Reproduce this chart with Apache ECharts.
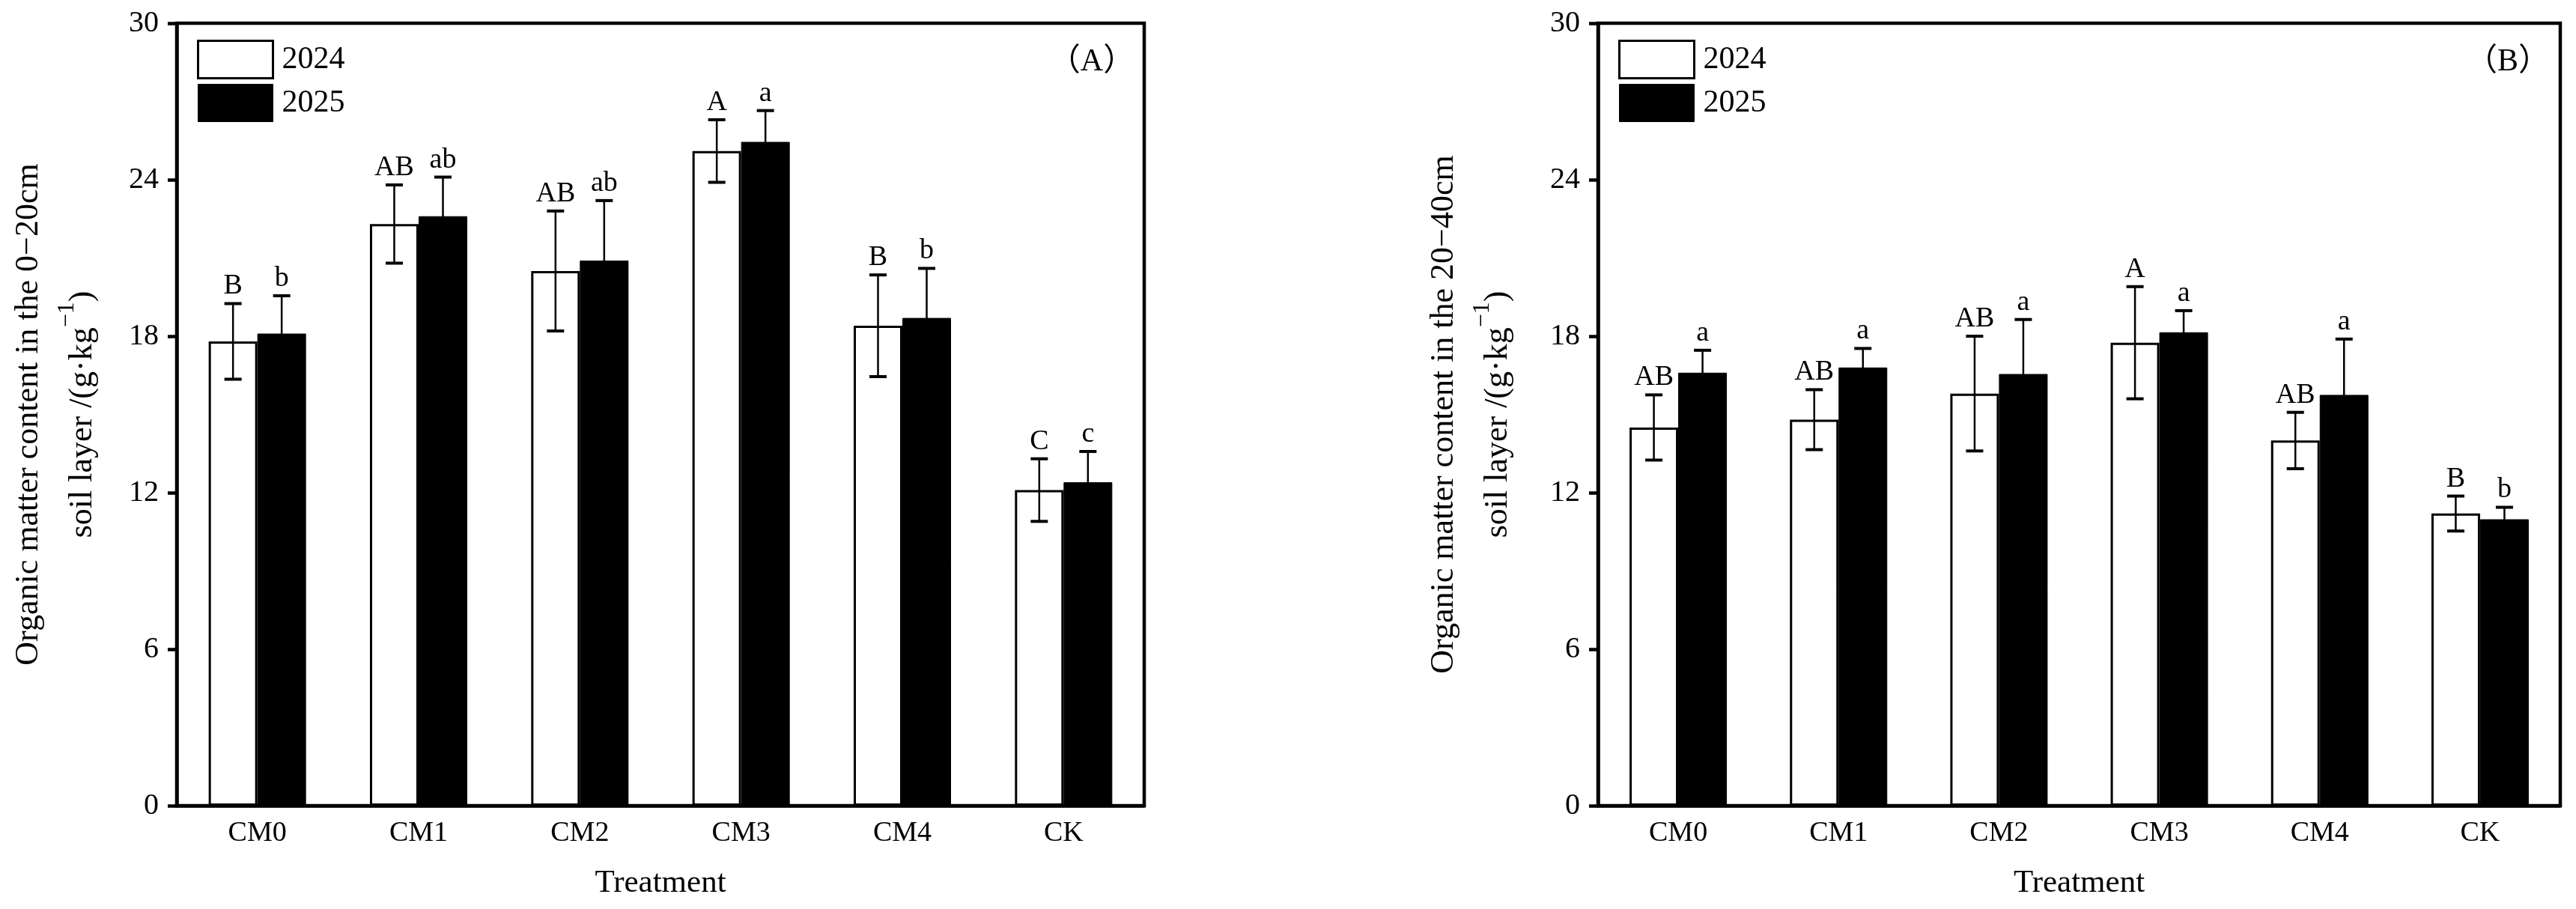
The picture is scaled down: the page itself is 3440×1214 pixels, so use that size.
<!DOCTYPE html>
<html>
<head>
<meta charset="utf-8">
<script src="https://cdn.jsdelivr.net/npm/echarts@6/dist/echarts.min.js"></script>
<style>
  html, body { margin: 0; padding: 0; background: #fff; }
  #main { width: 3440px; height: 1214px; }
</style>
</head>
<body>
<div id="main"></div>
<script>
// treatments on the x axis
const categories = ['CM0', 'CM1', 'CM2', 'CM3', 'CM4', 'CK'];
const yTicks = [0, 6, 12, 18, 24, 30];

// (A) 0-20cm layer
const a2024 = [17.8, 22.3, 20.5, 25.1, 18.4, 12.1];
const a2024Err = [1.45, 1.5, 2.3, 1.2, 1.95, 1.2];
const a2025 = [18.1, 22.6, 20.9, 25.45, 18.7, 12.4];
const a2025Err = [1.45, 1.5, 2.3, 1.2, 1.9, 1.18];
const a2024Sig = ['B', 'AB', 'AB', 'A', 'B', 'C'];
const a2025Sig = ['b', 'ab', 'ab', 'a', 'b', 'c'];

// (B) 20-40cm layer
const b2024 = [14.5, 14.8, 15.8, 17.75, 14.0, 11.2];
const b2024Err = [1.25, 1.15, 2.2, 2.15, 1.08, 0.67];
const b2025 = [16.6, 16.8, 16.55, 18.15, 15.75, 10.98];
const b2025Err = [0.86, 0.73, 2.09, 0.83, 2.14, 0.46];
const b2024Sig = ['AB', 'AB', 'AB', 'A', 'AB', 'B'];
const b2025Sig = ['a', 'a', 'a', 'a', 'a', 'b'];

const FONT = '"Liberation Serif", "Times New Roman", serif';
const BAR_W = 65;
const LINE_W = 4.5;

const chart = echarts.init(document.getElementById('main'));

function xAxis(gridIndex) {
  return {
    type: 'category',
    gridIndex: gridIndex,
    data: categories,
    name: 'Treatment',
    nameLocation: 'middle',
    nameGap: 82,
    nameTextStyle: { fontFamily: FONT, fontSize: 43, color: '#000' },
    axisLine: { lineStyle: { color: '#000', width: LINE_W } },
    axisTick: { show: false },
    axisLabel: { fontFamily: FONT, fontSize: 38, color: '#000', margin: 18 }
  };
}

function yAxis(gridIndex, depth, gap) {
  return {
    type: 'value',
    gridIndex: gridIndex,
    min: yTicks[0],
    max: yTicks[yTicks.length - 1],
    interval: 6,
    name: '{t|Organic matter content in the ' + depth + '}\n{t|soil layer /(g·kg}{s|−1}{t|)}',
    nameLocation: 'middle',
    nameRotate: 90,
    nameGap: gap,
    nameTextStyle: {
      color: '#000',
      rich: {
        t: { fontFamily: FONT, fontSize: 44, lineHeight: 72, color: '#000' },
        s: { fontFamily: FONT, fontSize: 32, lineHeight: 40, verticalAlign: 'top', color: '#000' }
      }
    },
    axisLine: { show: true, lineStyle: { color: '#000', width: LINE_W } },
    axisTick: { show: true, length: 12, lineStyle: { color: '#000', width: LINE_W } },
    axisLabel: { fontFamily: FONT, fontSize: 40, color: '#000', margin: 24 },
    splitLine: { show: false }
  };
}

function barSeries(name, values, idx, white) {
  return {
    type: 'bar',
    name: name,
    xAxisIndex: idx,
    yAxisIndex: idx,
    data: values,
    barWidth: BAR_W,
    barGap: '0%',
    silent: true,
    itemStyle: white
      ? { color: '#fff', borderColor: '#000', borderWidth: 3 }
      : { color: '#000', borderColor: '#000', borderWidth: 1 }
  };
}

function errSeries(values, errs, sig, idx, side) {
  return {
    type: 'custom',
    xAxisIndex: idx,
    yAxisIndex: idx,
    silent: true,
    z: 10,
    encode: { x: 0, y: 1 },
    data: values.map(function (v, i) { return [i, v, errs[i]]; }),
    renderItem: function (params, api) {
      const i = api.value(0), v = api.value(1), e = api.value(2);
      const top = api.coord([i, v + e]);
      const bot = api.coord([i, v - e]);
      const x = top[0] + side * BAR_W / 2;
      const cap = 11.5;
      return {
        type: 'group',
        children: [
          { type: 'line', shape: { x1: x, y1: top[1], x2: x, y2: bot[1] },
            style: { stroke: '#000', lineWidth: 2.5 } },
          { type: 'line', shape: { x1: x - cap, y1: top[1], x2: x + cap, y2: top[1] },
            style: { stroke: '#000', lineWidth: 4 } },
          { type: 'line', shape: { x1: x - cap, y1: bot[1], x2: x + cap, y2: bot[1] },
            style: { stroke: '#000', lineWidth: 4 } },
          { type: 'text', style: { text: sig[params.dataIndex], x: x, y: top[1] - 4,
            align: 'center', verticalAlign: 'bottom', fontFamily: FONT, fontSize: 38, fill: '#000' } }
        ]
      };
    }
  };
}

function legend(left) {
  return {
    left: left,
    top: 48,
    orient: 'vertical',
    itemWidth: 100,
    itemHeight: 50,
    itemGap: 6,
    selectedMode: false,
    textStyle: { fontFamily: FONT, fontSize: 42, color: '#000', padding: [0, 0, 0, 7] },
    data: [
      { name: '2024', icon: 'rect', itemStyle: { color: '#fff', borderColor: '#000', borderWidth: 3 } },
      { name: '2025', icon: 'rect', itemStyle: { color: '#000', borderColor: '#000', borderWidth: 1 } }
    ]
  };
}

const option = {
  backgroundColor: '#fff',
  animation: false,
  grid: [
    { left: 236, right: 1912, top: 31, bottom: 138, show: true, borderColor: '#000', borderWidth: LINE_W },
    { left: 2134, right: 21, top: 31, bottom: 138, show: true, borderColor: '#000', borderWidth: LINE_W }
  ],
  legend: [legend(258), legend(2156)],
  graphic: [
    { type: 'text', x: 1458, y: 83, style: { text: '（A）', align: 'center', verticalAlign: 'middle',
      fontFamily: '"Liberation Serif", "Noto Sans CJK SC", serif', fontSize: 42, fill: '#000' } },
    { type: 'text', x: 3349, y: 83, style: { text: '（B）', align: 'center', verticalAlign: 'middle',
      fontFamily: '"Liberation Serif", "Noto Sans CJK SC", serif', fontSize: 42, fill: '#000' } }
  ],
  xAxis: [xAxis(0), xAxis(1)],
  yAxis: [yAxis(0, '0−20cm', 90), yAxis(1, '20−40cm', 98)],
  series: [
    barSeries('2024', a2024, 0, true),
    barSeries('2025', a2025, 0, false),
    errSeries(a2024, a2024Err, a2024Sig, 0, -1),
    errSeries(a2025, a2025Err, a2025Sig, 0, 1),
    barSeries('2024', b2024, 1, true),
    barSeries('2025', b2025, 1, false),
    errSeries(b2024, b2024Err, b2024Sig, 1, -1),
    errSeries(b2025, b2025Err, b2025Sig, 1, 1)
  ]
};

chart.setOption(option);
</script>
</body>
</html>
